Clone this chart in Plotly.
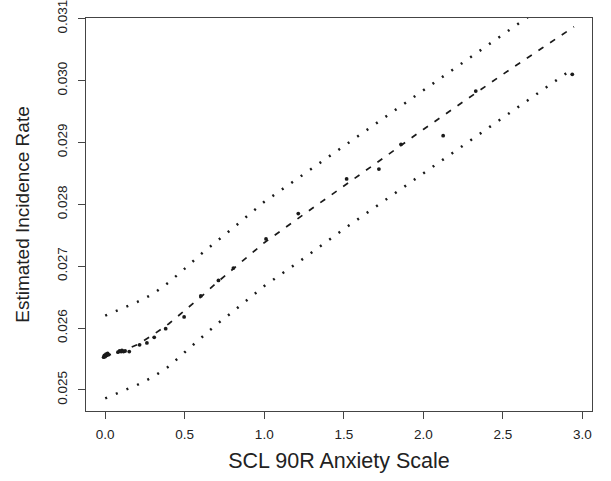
import plotly.graph_objects as go

# ---- data ----
center_x = [0, 0.1, 0.2, 0.3, 0.4, 0.5, 0.6, 0.7, 0.8, 1.0, 1.25, 1.5, 1.75, 2.0, 2.25, 2.5, 2.75, 2.948]
center_y = [0.02555, 0.02562, 0.02573, 0.02589, 0.02607, 0.02628, 0.02650, 0.02673, 0.02695, 0.02738,
            0.02784, 0.02829, 0.02875, 0.02921, 0.02966, 0.03010, 0.03053, 0.03087]

upper_x = [0, 0.1, 0.2, 0.3, 0.4, 0.5, 0.6, 0.8, 1.0, 1.25, 1.5, 1.75, 2.0, 2.25, 2.5, 2.75, 2.948]
upper_y = [0.02620, 0.02631, 0.02642, 0.02655, 0.02674, 0.02696, 0.02719, 0.02761, 0.02804, 0.02849,
           0.02894, 0.02940, 0.02985, 0.03030, 0.03075, 0.03120, 0.03155]

lower_x = [0, 0.1, 0.2, 0.3, 0.4, 0.5, 0.6, 0.7, 0.8, 1.0, 1.25, 1.5, 1.75, 2.0, 2.25, 2.5, 2.75, 2.94]
lower_y = [0.024865, 0.02497, 0.02508, 0.02521, 0.02538, 0.02561, 0.02584, 0.02606, 0.02626, 0.02668,
           0.02713, 0.02760, 0.02805, 0.02850, 0.02895, 0.02939, 0.02984, 0.03019]

points_x = [-0.01, -0.005, 0.0, 0.005, 0.01, 0.015, 0.02, 0.08, 0.09, 0.1, 0.105, 0.115, 0.125, 0.151,
            0.216, 0.262, 0.308, 0.38, 0.496, 0.601, 0.712, 0.806, 1.011, 1.214, 1.518, 1.721, 1.86,
            2.125, 2.33, 2.937]
points_y = [0.02553, 0.02556, 0.02554, 0.02558, 0.02556, 0.02559, 0.02557, 0.02561, 0.02563, 0.02562,
            0.02564, 0.02562, 0.02563, 0.02562, 0.02573, 0.02576, 0.02585, 0.02599, 0.02618, 0.02652,
            0.02677, 0.02697, 0.02744, 0.02785, 0.02841, 0.02857, 0.02897, 0.02911, 0.02983, 0.0301]

x_ticks = [0, 0.5, 1.0, 1.5, 2.0, 2.5, 3.0]
x_tick_labels = ["0.0", "0.5", "1.0", "1.5", "2.0", "2.5", "3.0"]
y_ticks = [0.025, 0.026, 0.027, 0.028, 0.029, 0.030, 0.031]
y_tick_labels = ["0.025", "0.026", "0.027", "0.028", "0.029", "0.030", "0.031"]

ink = "#1a1a1a"
font_family = "Liberation Sans, Arial, Helvetica, sans-serif"

fig = go.Figure()
fig.add_trace(go.Scatter(x=upper_x, y=upper_y, mode="lines",
                         line=dict(color=ink, width=2.5, dash="2px,9.5px"), hoverinfo="skip"))
fig.add_trace(go.Scatter(x=lower_x, y=lower_y, mode="lines",
                         line=dict(color=ink, width=2.5, dash="2px,9.5px"), hoverinfo="skip"))
fig.add_trace(go.Scatter(x=center_x, y=center_y, mode="lines",
                         line=dict(color=ink, width=1.7, dash="6px,8px"), hoverinfo="skip"))
fig.add_trace(go.Scatter(x=points_x, y=points_y, mode="markers",
                         marker=dict(color=ink, size=3.8), cliponaxis=False))

fig.update_layout(
    width=611, height=481,
    margin=dict(l=86, r=19, t=18, b=70),
    paper_bgcolor="white", plot_bgcolor="white",
    showlegend=False,
    font=dict(family=font_family, color=ink),
)
fig.update_xaxes(
    range=[-0.121, 3.061], showgrid=False, zeroline=False,
    showline=True, mirror=True, linecolor="#444", linewidth=1.2,
    ticks="outside", ticklen=7, tickcolor="#444", tickwidth=1,
    tickvals=x_ticks, ticktext=x_tick_labels,
    tickfont=dict(size=13.5, color="#222"), ticklabelstandoff=4,
    title=dict(text="SCL 90R Anxiety Scale", font=dict(size=21.5, color="#222"), standoff=11),
    automargin=False, ticklabeloverflow="allow",
)
fig.update_yaxes(
    range=[0.02466, 0.031011], showgrid=False, zeroline=False,
    showline=True, mirror=True, linecolor="#444", linewidth=1.2,
    ticks="outside", ticklen=7, tickcolor="#444", tickwidth=1,
    tickvals=y_ticks, ticktext=y_tick_labels, tickangle=-90,
    tickfont=dict(size=13.5, color="#222"), ticklabelstandoff=6,
    title=dict(text="Estimated Incidence Rate", font=dict(size=19, color="#222"), standoff=19),
    automargin=False, ticklabeloverflow="allow",
)

fig.write_html("out.html", config={"displayModeBar": False},
               post_script="document.body.style.margin='0';document.body.style.padding='0';")
